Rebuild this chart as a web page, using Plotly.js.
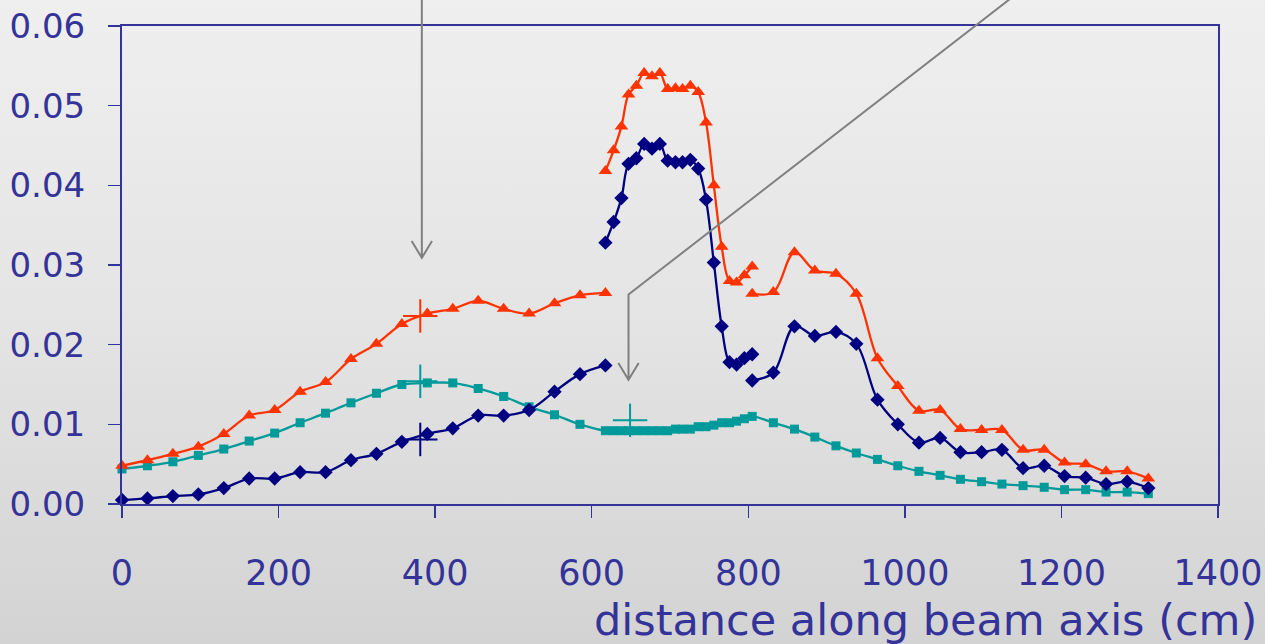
<!DOCTYPE html>
<html>
<head>
<meta charset="utf-8">
<script src="https://cdn.plot.ly/plotly-3.0.1.min.js"></script>
<style>
  html, body { margin: 0; padding: 0; }
  body { width: 1265px; height: 644px; background: linear-gradient(to bottom, #efefef 0%, #e4e4e4 50%, #d3d3d3 100%); }
  #chart { width: 1265px; height: 644px; }
</style>
</head>
<body>
<div id="chart"></div>
<script>
// ---- data ----
var xA = [0, 32.5, 65, 97.5, 130, 162.5, 195, 227.5, 260, 292.5, 325, 357.5, 390, 422.5, 455, 487.5, 520, 552.5, 585, 617.5];
var xB = [617.5, 628, 638, 647, 657, 667, 677, 687, 697, 707, 716, 726, 736, 746, 756, 766, 776, 785, 795, 805];
var xC = [805, 832, 859, 885, 912, 938, 965, 991, 1018, 1045, 1071, 1098, 1124, 1151, 1178, 1204, 1231, 1257, 1284, 1311];

var blueA = [0.0005, 0.0007, 0.0010, 0.0012, 0.0020, 0.0032, 0.0032, 0.0040, 0.0040, 0.0055, 0.0063, 0.0078, 0.0088, 0.0095, 0.0111, 0.0111, 0.0118, 0.0141, 0.0163, 0.0174];
var blueB = [0.0328, 0.0354, 0.0384, 0.0427, 0.0434, 0.0452, 0.0446, 0.0452, 0.0431, 0.0429, 0.0429, 0.0432, 0.0421, 0.0382, 0.0303, 0.0223, 0.0178, 0.0175, 0.0183, 0.0188];
var blueC = [0.0155, 0.0165, 0.0223, 0.0211, 0.0216, 0.0201, 0.0131, 0.0100, 0.0077, 0.0083, 0.0065, 0.0065, 0.0068, 0.0045, 0.0048, 0.0035, 0.0033, 0.0025, 0.0028, 0.0020];

var orangeA = [0.0048, 0.0055, 0.0063, 0.0072, 0.0088, 0.0111, 0.0118, 0.0141, 0.0153, 0.0182, 0.0201, 0.0226, 0.0239, 0.0245, 0.0255, 0.0245, 0.0239, 0.0252, 0.0262, 0.0265];
var orangeB = [0.0418, 0.0444, 0.0474, 0.0514, 0.0525, 0.0541, 0.0537, 0.0541, 0.0521, 0.0522, 0.0521, 0.0525, 0.0517, 0.0479, 0.0400, 0.0323, 0.0280, 0.0278, 0.0287, 0.0298];
var orangeC = [0.0264, 0.0266, 0.0316, 0.0293, 0.0289, 0.0264, 0.0183, 0.0148, 0.0117, 0.0118, 0.0094, 0.0093, 0.0093, 0.0068, 0.0068, 0.0052, 0.0050, 0.0041, 0.0041, 0.0032];

var tealA = [0.0044, 0.0048, 0.0053, 0.0061, 0.0069, 0.0079, 0.0089, 0.0102, 0.0114, 0.0127, 0.0139, 0.0150, 0.0152, 0.0152, 0.0145, 0.0135, 0.0122, 0.0112, 0.0100];
var tealB = [0.0092, 0.0092, 0.0092, 0.0092, 0.0092, 0.0092, 0.0092, 0.0092, 0.0092, 0.0094, 0.0094, 0.0094, 0.0097, 0.0097, 0.0099, 0.0102, 0.0102, 0.0104, 0.0107, 0.0110];
var tealC = [0.0102, 0.0094, 0.0084, 0.0073, 0.0064, 0.0056, 0.0048, 0.0041, 0.0036, 0.0031, 0.0028, 0.0025, 0.0023, 0.0021, 0.0018, 0.0018, 0.0015, 0.0015, 0.0013];

// marked positions (crosses)
var crossOrangeX = [381], crossOrangeY = [0.0236];
var crossTealX = [381, 649], crossTealY = [0.0154, 0.0105];
var crossBlueX = [381], crossBlueY = [0.0081];

// arrow pointers (x in cm, y in data units)
var arrow1 = {x: 383, yTop: 0.0636, yTip: 0.0309};
var arrow2 = {xTop: 1137, yTop: 0.0636, xBend: 647, yBend: 0.0263, yTip: 0.0156};

var xTicks = [0, 200, 400, 600, 800, 1000, 1200, 1400];
var yTicks = [0, 0.01, 0.02, 0.03, 0.04, 0.05, 0.06];
var xTitle = 'distance along beam axis (cm)';

// ---- styles ----
var ORANGE = '#ff3300', NAVY = '#000080', TEAL = '#009a9a', AXIS = '#333399', GREY = '#808080';
var YMAX = 0.06;

function seg(x, y, color, symbol, size) {
  return {
    x: x, y: y, type: 'scatter', mode: 'lines+markers',
    line: {color: color, width: 2.3, shape: 'spline', smoothing: 1},
    marker: {color: color, symbol: symbol, size: size},
    hoverinfo: 'x+y', cliponaxis: false
  };
}
function cross(x, y, color) {
  return {
    x: x, y: y, type: 'scatter', mode: 'markers',
    marker: {size: 1, opacity: 0},
    error_x: {type: 'constant', value: 22, width: 0, thickness: 2, color: color},
    error_y: {type: 'constant', value: 0.0021, width: 0, thickness: 2, color: color},
    hoverinfo: 'skip'
  };
}

var tealX = xA.slice(0, tealA.length).concat(xB, xC.slice(1));
var tealY = tealA.concat(tealB, tealC);

var data = [
  seg(tealX, tealY, TEAL, 'square', 9),
  seg(xA, blueA, NAVY, 'diamond', 11),
  seg(xB, blueB, NAVY, 'diamond', 11),
  seg(xC, blueC, NAVY, 'diamond', 11),
  seg(xA, orangeA, ORANGE, 'triangle-up', 12),
  seg(xB, orangeB, ORANGE, 'triangle-up', 12),
  seg(xC, orangeC, ORANGE, 'triangle-up', 12),
  cross(crossOrangeX, crossOrangeY, ORANGE),
  cross(crossTealX, crossTealY, TEAL),
  cross(crossBlueX, crossBlueY, NAVY)
];

function p(v) { return (v / YMAX).toFixed(4); }
var wingDx = 13, wingDy = 0.0021;
var shapes = [
  {type: 'path', xref: 'x', yref: 'paper', layer: 'above',
   path: 'M ' + arrow1.x + ',' + p(arrow1.yTop) + ' L ' + arrow1.x + ',' + p(arrow1.yTip) +
         ' M ' + (arrow1.x - wingDx) + ',' + p(arrow1.yTip + wingDy) + ' L ' + arrow1.x + ',' + p(arrow1.yTip) +
         ' L ' + (arrow1.x + wingDx) + ',' + p(arrow1.yTip + wingDy),
   line: {color: GREY, width: 2}},
  {type: 'path', xref: 'x', yref: 'paper', layer: 'above',
   path: 'M ' + arrow2.xTop + ',' + p(arrow2.yTop) + ' L ' + arrow2.xBend + ',' + p(arrow2.yBend) +
         ' L ' + arrow2.xBend + ',' + p(arrow2.yTip) +
         ' M ' + (arrow2.xBend - wingDx) + ',' + p(arrow2.yTip + wingDy) + ' L ' + arrow2.xBend + ',' + p(arrow2.yTip) +
         ' L ' + (arrow2.xBend + wingDx) + ',' + p(arrow2.yTip + wingDy),
   line: {color: GREY, width: 2}}
];

var layout = {
  width: 1265, height: 644,
  margin: {l: 122, r: 47, t: 26, b: 140},
  paper_bgcolor: 'rgba(0,0,0,0)',
  plot_bgcolor: 'rgba(0,0,0,0)',
  showlegend: false,
  xaxis: {
    range: [0, 1400], tickvals: xTicks, ticktext: xTicks.map(String),
    showgrid: false, zeroline: false,
    showline: true, linecolor: AXIS, linewidth: 2, mirror: true,
    ticks: 'outside', ticklen: 12, tickwidth: 1.5, tickcolor: AXIS,
    tickfont: {family: 'DejaVu Sans', size: 35, color: AXIS}, ticklabelstandoff: 25
  },
  yaxis: {
    range: [0, YMAX], tickvals: yTicks, ticktext: yTicks.map(function (v) { return v.toFixed(2); }),
    showgrid: false, zeroline: false,
    showline: true, linecolor: AXIS, linewidth: 2, mirror: true,
    ticks: 'outside', ticklen: 12, tickwidth: 1.5, tickcolor: AXIS,
    tickfont: {family: 'DejaVu Sans', size: 34, color: AXIS}, ticklabelstandoff: 16
  },
  shapes: shapes,
  annotations: [{
    text: xTitle, xref: 'paper', yref: 'paper', x: 1.0375, y: -0.2427,
    xanchor: 'right', yanchor: 'middle', showarrow: false,
    font: {family: 'DejaVu Sans', size: 43, color: AXIS}
  }]
};

Plotly.newPlot('chart', data, layout, {staticPlot: true, displayModeBar: false});
</script>
</body>
</html>
